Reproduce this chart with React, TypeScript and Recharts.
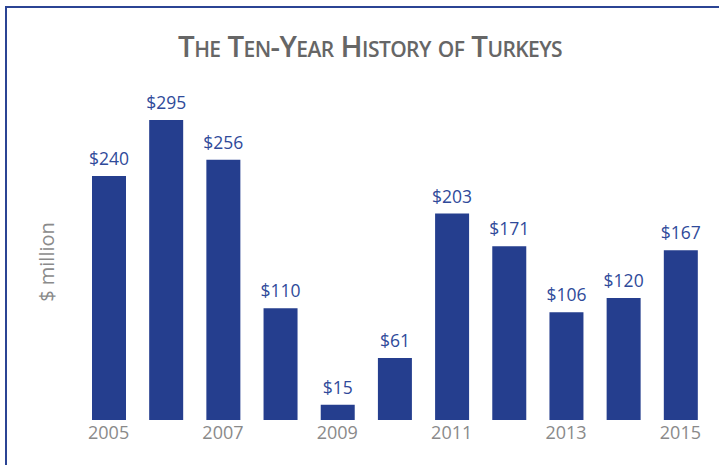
import React from "react";
import { Bar, BarChart, LabelList, XAxis, YAxis } from "recharts";

const years = ["2005", "2006", "2007", "2008", "2009", "2010", "2011", "2012", "2013", "2014", "2015"];
const turkeys = [240, 295, 256, 110, 15, 61, 203, 171, 106, 120, 167];

const data = years.map((year, i) => ({ year, value: turkeys[i] }));

const font = "'Open Sans', sans-serif";

export default function App() {
  return (
    <div style={{ position: "absolute", left: 0, top: 0, width: 719, height: 465, background: "#fff", overflow: "hidden", fontFamily: font }}>
      <div
        style={{
          position: "absolute",
          left: 5,
          top: 6,
          width: 760,
          height: 500,
          borderLeft: "2px solid #2b4494",
          borderTop: "2px solid #2b4494"
        }}
      />
      <div
        style={{
          position: "absolute",
          left: 0,
          top: 28,
          width: 740,
          textAlign: "center",
          fontSize: 29.5,
          fontWeight: 600,
          letterSpacing: -0.6,
          color: "#666",
          fontVariant: "small-caps",
          lineHeight: "36px"
        }}
      >
        The Ten-Year History of Turkeys
      </div>
      <BarChart
        width={719}
        height={465}
        data={data}
        margin={{ top: 115, right: 10, left: 80, bottom: 15 }}
        style={{ position: "absolute", left: 0, top: 0 }}
      >
        <XAxis
          dataKey="year"
          interval={1}
          tickLine={false}
          axisLine={false}
          tickMargin={0}
          height={30}
          tick={{ fill: "#8a8a8a", fontSize: 18, fontFamily: font }}
        />
        <YAxis domain={[0, 300]} hide width={0} />
        <Bar dataKey="value" fill="#253e8e" barSize={34} isAnimationActive={false}>
          <LabelList
            dataKey="value"
            position="top"
            offset={11}
            formatter={(v: number) => `$${v}`}
            style={{ fill: "#2f4a9a", fontSize: 17.5, fontFamily: font }}
          />
        </Bar>
      </BarChart>
      <div
        style={{
          position: "absolute",
          left: 46,
          top: 262,
          transform: "translate(-50%, -50%) rotate(-90deg)",
          fontSize: 20,
          color: "#8a8a8a",
          whiteSpace: "nowrap"
        }}
      >
        $ million
      </div>
    </div>
  );
}
